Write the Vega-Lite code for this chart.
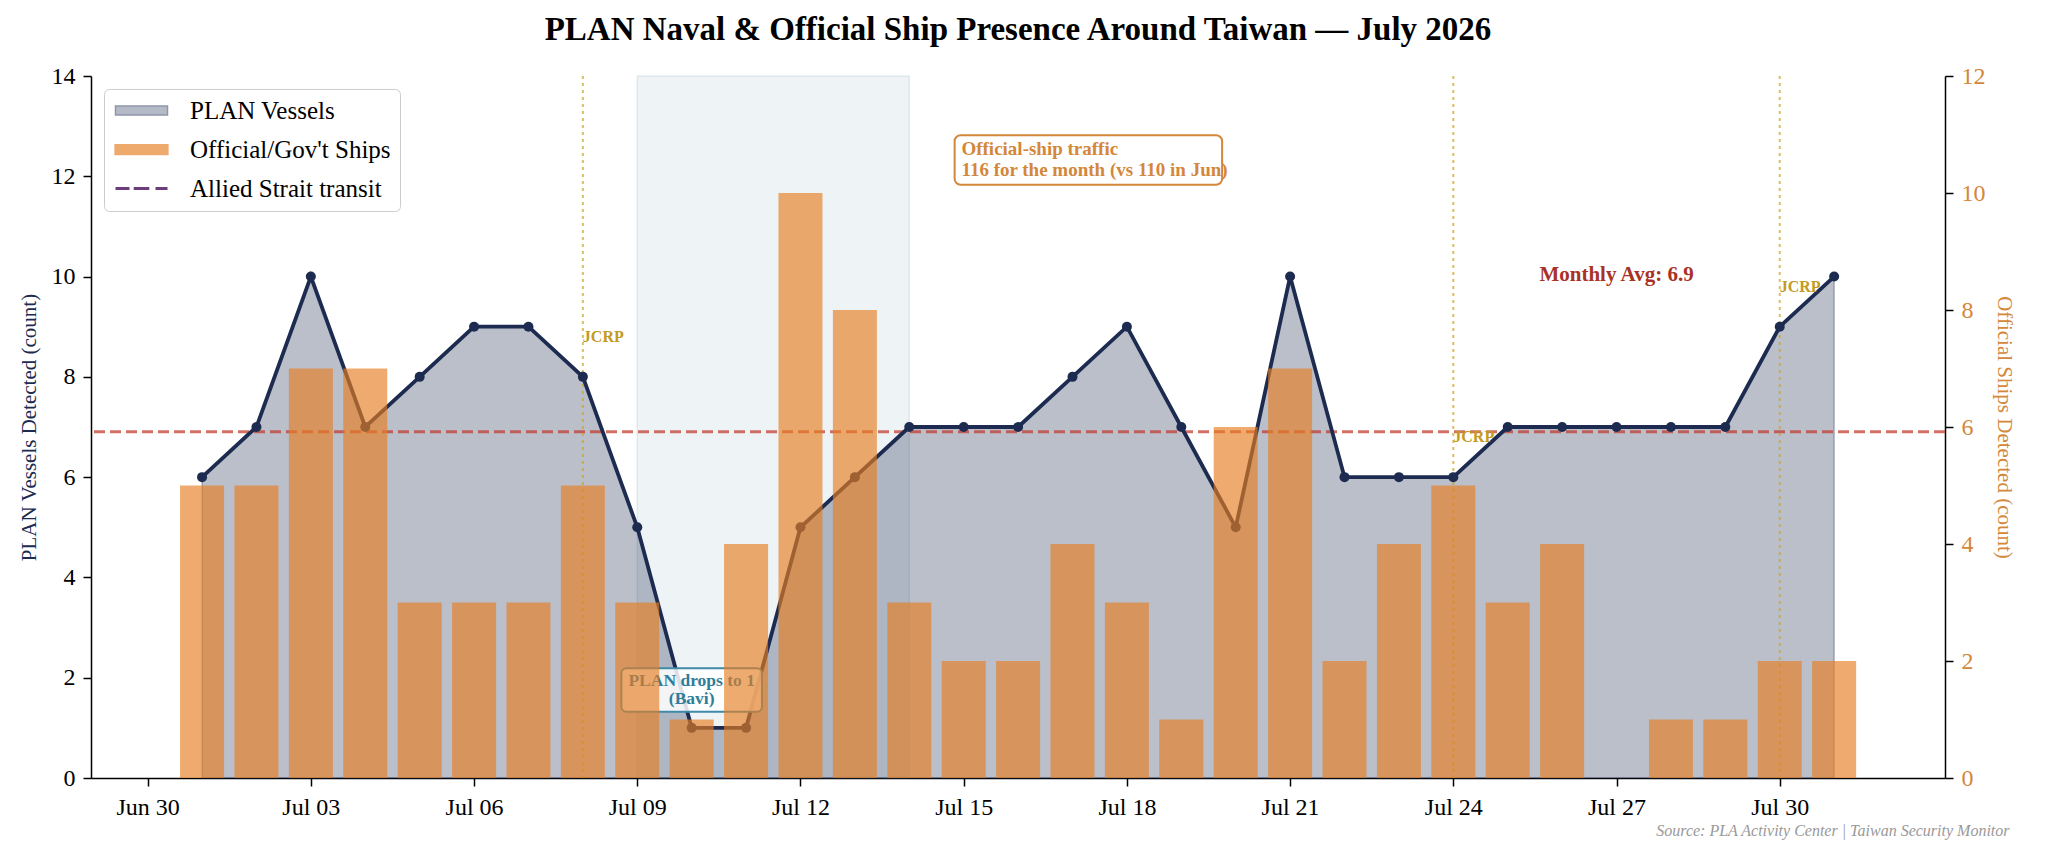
{
  "$schema": "https://vega.github.io/schema/vega-lite/v6.json",
  "width": 1854,
  "height": 702,
  "autosize": {"type": "none"},
  "padding": {"left": 91, "top": 76, "right": 100, "bottom": 82},
  "background": "#ffffff",
  "title": {
    "text": "PLAN Naval & Official Ship Presence Around Taiwan — July 2026",
    "font": "Liberation Serif",
    "fontSize": 33,
    "fontWeight": "bold",
    "color": "#000000",
    "anchor": "middle",
    "offset": 17
  },
  "config": {
    "font": "Liberation Serif",
    "view": {"fill": "#f8f8f8", "stroke": null},
    "axis": {
      "labelFont": "Liberation Serif",
      "titleFont": "Liberation Serif",
      "labelFontSize": 24,
      "titleFontSize": 21,
      "titleFontWeight": "normal",
      "labelColor": "#000000",
      "domainColor": "#000000",
      "domainWidth": 1.5,
      "tickColor": "#000000",
      "tickWidth": 1.5,
      "tickSize": 8,
      "labelPadding": 8,
      "gridColor": "#e4e4e4",
      "gridWidth": 1
    },
    "legend": {
      "title": null,
      "orient": "top-left",
      "offset": 13,
      "padding": 9,
      "fillColor": "#ffffff",
      "strokeColor": "#cccccc",
      "cornerRadius": 5,
      "labelFont": "Liberation Serif",
      "labelFontSize": 25,
      "labelColor": "#000000",
      "labelLimit": 400,
      "symbolSize": 400,
      "symbolOffset": 16,
      "labelOffset": 36,
      "symbolOpacity": 1,
      "rowPadding": 13
    }
  },
  "datasets": {
    "daily": [
      {"date": "2026-07-01T00:00:00", "plan": 6, "official": 5, "event": null},
      {"date": "2026-07-02T00:00:00", "plan": 7, "official": 5, "event": null},
      {"date": "2026-07-03T00:00:00", "plan": 10, "official": 7, "event": null},
      {"date": "2026-07-04T00:00:00", "plan": 7, "official": 7, "event": null},
      {"date": "2026-07-05T00:00:00", "plan": 8, "official": 3, "event": null},
      {"date": "2026-07-06T00:00:00", "plan": 9, "official": 3, "event": null},
      {"date": "2026-07-07T00:00:00", "plan": 9, "official": 3, "event": null},
      {"date": "2026-07-08T00:00:00", "plan": 8, "official": 5, "event": "JCRP"},
      {"date": "2026-07-09T00:00:00", "plan": 5, "official": 3, "event": null},
      {"date": "2026-07-10T00:00:00", "plan": 1, "official": 1, "event": null},
      {"date": "2026-07-11T00:00:00", "plan": 1, "official": 4, "event": null},
      {"date": "2026-07-12T00:00:00", "plan": 5, "official": 10, "event": null},
      {"date": "2026-07-13T00:00:00", "plan": 6, "official": 8, "event": null},
      {"date": "2026-07-14T00:00:00", "plan": 7, "official": 3, "event": null},
      {"date": "2026-07-15T00:00:00", "plan": 7, "official": 2, "event": null},
      {"date": "2026-07-16T00:00:00", "plan": 7, "official": 2, "event": null},
      {"date": "2026-07-17T00:00:00", "plan": 8, "official": 4, "event": null},
      {"date": "2026-07-18T00:00:00", "plan": 9, "official": 3, "event": null},
      {"date": "2026-07-19T00:00:00", "plan": 7, "official": 1, "event": null},
      {"date": "2026-07-20T00:00:00", "plan": 5, "official": 6, "event": null},
      {"date": "2026-07-21T00:00:00", "plan": 10, "official": 7, "event": null},
      {"date": "2026-07-22T00:00:00", "plan": 6, "official": 2, "event": null},
      {"date": "2026-07-23T00:00:00", "plan": 6, "official": 4, "event": null},
      {"date": "2026-07-24T00:00:00", "plan": 6, "official": 5, "event": "JCRP"},
      {"date": "2026-07-25T00:00:00", "plan": 7, "official": 3, "event": null},
      {"date": "2026-07-26T00:00:00", "plan": 7, "official": 4, "event": null},
      {"date": "2026-07-27T00:00:00", "plan": 7, "official": 0, "event": null},
      {"date": "2026-07-28T00:00:00", "plan": 7, "official": 1, "event": null},
      {"date": "2026-07-29T00:00:00", "plan": 7, "official": 1, "event": null},
      {"date": "2026-07-30T00:00:00", "plan": 9, "official": 2, "event": "JCRP"},
      {"date": "2026-07-31T00:00:00", "plan": 10, "official": 2, "event": null}
    ]
  },
  "data": {"name": "daily"},
  "layer": [
    {
      "layer": [
        {
          "data": {"values": [{}]},
          "mark": {"type": "rect", "fill": "#5d8aa8", "fillOpacity": 0.1, "stroke": "#5d8aa8", "strokeOpacity": 0.15, "strokeWidth": 1.5},
          "encoding": {
            "x": {"datum": {"year": 2026, "month": 7, "date": 9}},
            "x2": {"datum": {"year": 2026, "month": 7, "date": 14}},
            "y": {"datum": 0},
            "y2": {"datum": 14}
          }
        },
        {
          "mark": {"type": "area", "fill": "#1c2b4f", "fillOpacity": 0.3, "stroke": "#1c2b4f", "strokeOpacity": 0.3, "strokeWidth": 1.5},
          "encoding": {
            "x": {
              "field": "date",
              "type": "temporal",
              "scale": {"domain": [
                {"year": 2026, "month": 6, "date": 29, "hours": 1, "minutes": 13},
                {"year": 2026, "month": 8, "date": 1, "hours": 22, "minutes": 42}
              ]},
              "axis": {
                "values": [
                  {"year": 2026, "month": 6, "date": 30},
                  {"year": 2026, "month": 7, "date": 3},
                  {"year": 2026, "month": 7, "date": 6},
                  {"year": 2026, "month": 7, "date": 9},
                  {"year": 2026, "month": 7, "date": 12},
                  {"year": 2026, "month": 7, "date": 15},
                  {"year": 2026, "month": 7, "date": 18},
                  {"year": 2026, "month": 7, "date": 21},
                  {"year": 2026, "month": 7, "date": 24},
                  {"year": 2026, "month": 7, "date": 27},
                  {"year": 2026, "month": 7, "date": 30}
                ],
                "format": "%b %d",
                "labelPadding": 9,
                "title": "Source: PLA Activity Center | Taiwan Security Monitor",
                "titleFontSize": 16,
                "titleFontStyle": "italic",
                "titleColor": "#999999",
                "titleAnchor": "end",
                "titleAlign": "right",
                "titleBaseline": "alphabetic",
                "titleX": 1918,
                "titleY": 57
              }
            },
            "y": {
              "field": "plan",
              "type": "quantitative",
              "scale": {"domain": [0, 14], "nice": false},
              "axis": {
                "values": [0, 2, 4, 6, 8, 10, 12, 14],
                "title": "PLAN Vessels Detected (count)",
                "titleColor": "#1c2b4f",
                "titlePadding": 12
              }
            }
          }
        },
        {
          "mark": {"type": "rule", "color": "#c0392b", "opacity": 0.72, "strokeWidth": 3, "strokeDash": [11, 5]},
          "encoding": {
            "y": {"aggregate": "mean", "field": "plan", "type": "quantitative"}
          }
        },
        {
          "transform": [{"filter": "datum.event != null"}],
          "mark": {"type": "rule", "color": "#c9a227", "opacity": 0.7, "strokeWidth": 2, "strokeDash": [3, 4]},
          "encoding": {
            "x": {"field": "date", "type": "temporal"}
          }
        },
        {
          "mark": {"type": "line", "color": "#1c2b4f", "strokeWidth": 3.8},
          "encoding": {
            "x": {"field": "date", "type": "temporal"},
            "y": {"field": "plan", "type": "quantitative"}
          }
        },
        {
          "mark": {"type": "point", "filled": true, "color": "#1c2b4f", "opacity": 1, "size": 100},
          "encoding": {
            "x": {"field": "date", "type": "temporal"},
            "y": {"field": "plan", "type": "quantitative"}
          }
        },
        {
          "data": {"values": [{}]},
          "mark": {"type": "rect", "fill": "#ffffff", "fillOpacity": 0.85, "stroke": "#3f8aa8", "strokeWidth": 2, "cornerRadius": 5},
          "encoding": {
            "x": {"datum": {"year": 2026, "month": 7, "date": 8, "hours": 17}},
            "x2": {"datum": {"year": 2026, "month": 7, "date": 11, "hours": 7}},
            "y": {"datum": 1.32},
            "y2": {"datum": 2.19}
          }
        },
        {
          "data": {"values": [{}]},
          "mark": {"type": "text", "text": ["PLAN drops to 1", "(Bavi)"], "font": "Liberation Serif", "fontSize": 17.5, "fontWeight": "bold", "color": "#2e7d9a", "lineHeight": 18, "align": "center", "baseline": "middle"},
          "encoding": {
            "x": {"datum": {"year": 2026, "month": 7, "date": 10}},
            "y": {"datum": 1.94}
          }
        },
        {
          "transform": [{"filter": "datum.event != null"}],
          "mark": {"type": "text", "font": "Liberation Serif", "fontSize": 16, "fontWeight": "bold", "color": "#c29b1f", "align": "left", "baseline": "middle", "dx": 0, "dy": -40},
          "encoding": {
            "x": {"field": "date", "type": "temporal"},
            "y": {"field": "plan", "type": "quantitative"},
            "text": {"field": "event", "type": "nominal"}
          }
        },
        {
          "data": {"values": [{}]},
          "mark": {"type": "rect", "fill": "#ffffff", "cornerRadius": 5},
          "encoding": {
            "x": {"datum": {"year": 2026, "month": 7, "date": 25, "hours": 11}},
            "x2": {"datum": {"year": 2026, "month": 7, "date": 28, "hours": 12}},
            "y": {"datum": 9.79},
            "y2": {"datum": 10.27}
          }
        },
        {
          "data": {"values": [{}]},
          "mark": {"type": "text", "text": "Monthly Avg: 6.9", "font": "Liberation Serif", "fontSize": 21, "fontWeight": "bold", "color": "#a93226", "align": "center", "baseline": "middle"},
          "encoding": {
            "x": {"datum": {"year": 2026, "month": 7, "date": 27}},
            "y": {"datum": 10.03}
          }
        },
        {
          "data": {"values": [{}]},
          "mark": {"type": "rect", "fill": "#ffffff", "stroke": "#d4873a", "strokeWidth": 2, "cornerRadius": 6},
          "encoding": {
            "x": {"datum": {"year": 2026, "month": 7, "date": 14, "hours": 20}},
            "x2": {"datum": {"year": 2026, "month": 7, "date": 19, "hours": 18}},
            "y": {"datum": 11.83},
            "y2": {"datum": 12.82}
          }
        },
        {
          "data": {"values": [{}]},
          "mark": {"type": "text", "text": ["Official-ship traffic", "116 for the month (vs 110 in Jun)"], "font": "Liberation Serif", "fontSize": 19, "fontWeight": "bold", "color": "#d4873a", "lineHeight": 21, "align": "left", "baseline": "middle"},
          "encoding": {
            "x": {"datum": {"year": 2026, "month": 7, "date": 14, "hours": 23}},
            "y": {"datum": 12.55}
          }
        },
        {
          "data": {"values": [
            {"series": "PLAN Vessels"},
            {"series": "Official/Gov't Ships"},
            {"series": "Allied Strait transit"}
          ]},
          "mark": {"type": "point", "filled": true, "opacity": 0},
          "encoding": {
            "fill": {
              "field": "series",
              "type": "nominal",
              "scale": {"domain": ["PLAN Vessels", "Official/Gov't Ships", "Allied Strait transit"], "range": ["#b4bac6", "#edaa6c", "transparent"]}
            },
            "stroke": {
              "field": "series",
              "type": "nominal",
              "scale": {"domain": ["PLAN Vessels", "Official/Gov't Ships", "Allied Strait transit"], "range": ["#8f97a9", "#edaa6c", "#6b3d7d"]}
            },
            "shape": {
              "field": "series",
              "type": "nominal",
              "scale": {"domain": ["PLAN Vessels", "Official/Gov't Ships", "Allied Strait transit"], "range": ["M-2.6,-0.45H2.6V0.45H-2.6Z", "M-2.6,-0.45H2.6V0.45H-2.6Z", "M-2.6,0H-1.2M-0.78,0H0.78M1.4,0H2.6"]}
            },
            "strokeWidth": {
              "field": "series",
              "type": "ordinal",
              "scale": {"type": "point", "domain": ["PLAN Vessels", "Official/Gov't Ships", "Allied Strait transit"], "range": [1.5, 3], "padding": 0}
            }
          }
        }
      ]
    },
    {
      "mark": {"type": "bar", "color": "#e67e22", "opacity": 0.65, "size": 44},
      "encoding": {
        "x": {"field": "date", "type": "temporal"},
        "y": {
          "field": "official",
          "type": "quantitative",
          "scale": {"domain": [0, 12], "nice": false},
          "axis": {
            "orient": "right",
            "values": [0, 2, 4, 6, 8, 10, 12],
            "title": "Official Ships Detected (count)",
            "titleColor": "#d4873a",
            "labelColor": "#d4873a",
            "titlePadding": 8
          }
        }
      }
    }
  ],
  "resolve": {"scale": {"y": "independent"}}
}
